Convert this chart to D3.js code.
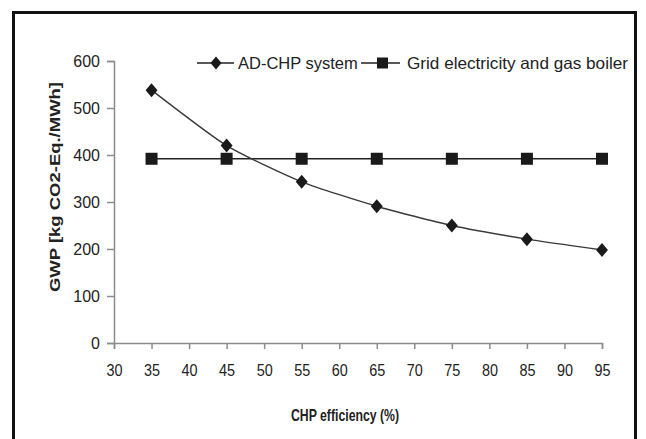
<!DOCTYPE html>
<html><head><meta charset="utf-8">
<script src="https://cdn.jsdelivr.net/npm/d3@7"></script>
<style>
html,body{margin:0;padding:0;background:#fff;}
svg{display:block;}
text{font-family:"Liberation Sans",Arial,sans-serif;}
</style></head>
<body>
<svg id="chart" width="646" height="439"></svg>
<script>
const efficiency = [35, 45, 55, 65, 75, 85, 95];
const adChp = [538, 420, 343, 291, 250, 221, 198];
const gridBoiler = [392, 392, 392, 392, 392, 392, 392];
const xTicks = [30, 35, 40, 45, 50, 55, 60, 65, 70, 75, 80, 85, 90, 95];
const yTicks = [0, 100, 200, 300, 400, 500, 600];
const seriesNames = ["AD-CHP system", "Grid electricity and gas boiler"];
const xTitle = "CHP efficiency (%)";
const yTitle = "GWP [kg CO2-Eq./MWh]";

const svg = d3.select("#chart");
const x = d3.scaleLinear().domain([30, 95]).range([114, 602]);
const y = d3.scaleLinear().domain([0, 600]).range([343, 61]);

svg.append("rect").attr("x", 13.5).attr("y", 12.5).attr("width", 622).attr("height", 440)
  .attr("fill", "none").attr("stroke", "#111").attr("stroke-width", 3);

const axisColor = "#8c8c8c";
const textColor = "#222";

const ya = svg.append("g").attr("transform", `translate(${x(30)},0)`)
  .call(d3.axisLeft(y).tickValues(yTicks).tickSize(7).tickPadding(7));
const xa = svg.append("g").attr("transform", `translate(0,${y(0)})`)
  .call(d3.axisBottom(x).tickValues(xTicks).tickSize(6).tickPadding(16));
[ya, xa].forEach(g => {
  g.select(".domain").attr("stroke", axisColor).attr("stroke-width", 1.5);
  g.selectAll(".tick line").attr("stroke", axisColor).attr("stroke-width", 1.5);
  g.selectAll(".tick text").attr("fill", textColor).attr("font-size", 16)
    .style("font-family", '"Liberation Sans",Arial,sans-serif');
});
xa.selectAll(".tick text").each(function() {
  const t = d3.select(this);
  t.attr("textLength", this.getComputedTextLength() * 0.9).attr("lengthAdjust", "spacingAndGlyphs");
});

svg.append("text").attr("x", 345).attr("y", 421).attr("text-anchor", "middle")
  .attr("font-size", 17).attr("font-weight", "bold").attr("fill", textColor)
  .attr("textLength", 108).attr("lengthAdjust", "spacingAndGlyphs").text(xTitle);
svg.append("text").attr("transform", `translate(60,187) rotate(-90)`)
  .attr("text-anchor", "middle").attr("font-size", 15).attr("font-weight", "bold")
  .attr("fill", textColor).attr("textLength", 210).attr("lengthAdjust", "spacingAndGlyphs").text(yTitle);

const ad = efficiency.map((e, i) => ({x: e, y: adChp[i]}));
const gb = efficiency.map((e, i) => ({x: e, y: gridBoiler[i]}));

svg.append("path").datum(gb)
  .attr("d", d3.line().x(d => x(d.x)).y(d => y(d.y)))
  .attr("fill", "none").attr("stroke", "#222").attr("stroke-width", 1.5);
svg.append("path").datum(ad)
  .attr("d", d3.line().x(d => x(d.x)).y(d => y(d.y)).curve(d3.curveCardinal.tension(0.4)))
  .attr("fill", "none").attr("stroke", "#3a3a3a").attr("stroke-width", 1.4);

const diamondPath = s => `M0,${-s}L${s*0.85},0L0,${s}L${-s*0.85},0Z`;
svg.selectAll(".sq").data(gb).join("rect").attr("class", "sq")
  .attr("x", d => x(d.x) - 6).attr("y", d => y(d.y) - 6)
  .attr("width", 12).attr("height", 12).attr("fill", "#1a1a1a");
svg.selectAll(".dm").data(ad).join("path").attr("class", "dm")
  .attr("transform", d => `translate(${x(d.x)},${y(d.y)})`)
  .attr("d", diamondPath(7)).attr("fill", "#1a1a1a");

const ly = 63;
const leg = svg.append("g");
leg.append("line").attr("x1", 197).attr("x2", 234).attr("y1", ly).attr("y2", ly)
  .attr("stroke", "#222").attr("stroke-width", 1.5);
leg.append("path").attr("transform", `translate(216,${ly})`).attr("d", diamondPath(6.5)).attr("fill", "#1a1a1a");
leg.append("text").attr("x", 238).attr("y", ly + 6).attr("font-size", 16.5).attr("fill", textColor).text(seriesNames[0]);
leg.append("line").attr("x1", 361).attr("x2", 400).attr("y1", ly).attr("y2", ly)
  .attr("stroke", "#222").attr("stroke-width", 1.5);
leg.append("rect").attr("x", 377).attr("y", ly - 5.5).attr("width", 11).attr("height", 11).attr("fill", "#1a1a1a");
leg.append("text").attr("x", 407).attr("y", ly + 6).attr("font-size", 16.5).attr("fill", textColor)
  .attr("textLength", 221).attr("lengthAdjust", "spacingAndGlyphs").text(seriesNames[1]);
</script>
</body></html>
